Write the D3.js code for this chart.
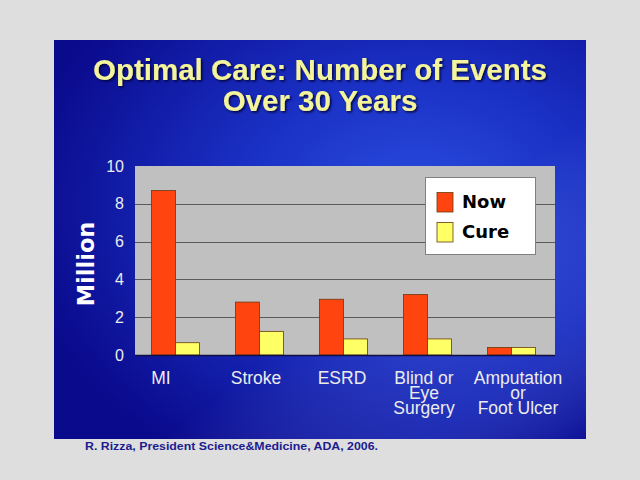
<!DOCTYPE html>
<html><head><meta charset="utf-8">
<script src="https://cdn.jsdelivr.net/npm/d3@7/dist/d3.min.js"></script>
<style>html,body{margin:0;padding:0;background:#dedede;}svg{display:block;}</style>
</head><body>
<script>
const categories = [["MI"], ["Stroke"], ["ESRD"], ["Blind or", "Eye", "Surgery"], ["Amputation", "or", "Foot Ulcer"]];
const seriesNames = ["Now", "Cure"];
const nowValues = [8.7, 2.8, 2.95, 3.2, 0.4];
const cureValues = [0.65, 1.25, 0.85, 0.85, 0.4];
const yTicks = [0, 2, 4, 6, 8, 10];
const titleLines = ["Optimal Care: Number of Events", "Over 30 Years"];
const yAxisLabel = "Million";
const citation = "R. Rizza, President Science&Medicine, ADA, 2006.";

const W = 640, H = 480;
const svg = d3.select("body").append("svg").attr("width", W).attr("height", H);
const defs = svg.append("defs");
const rg = defs.append("radialGradient").attr("id", "bg").attr("cx", "0.68").attr("cy", "0.42").attr("r", "0.75");
rg.append("stop").attr("offset", "0").attr("stop-color", "#2a4ee0");
rg.append("stop").attr("offset", "0.45").attr("stop-color", "#1a30c4");
rg.append("stop").attr("offset", "1").attr("stop-color", "#0a0a8c");
const lg = defs.append("linearGradient").attr("id", "streak").attr("x1", "0").attr("y1", "0").attr("x2", "1").attr("y2", "1");
lg.append("stop").attr("offset", "0.6").attr("stop-color", "#ffffff").attr("stop-opacity", 0);
lg.append("stop").attr("offset", "0.85").attr("stop-color", "#6080ff").attr("stop-opacity", 0.18);
lg.append("stop").attr("offset", "1").attr("stop-color", "#ffffff").attr("stop-opacity", 0);
const sh = defs.append("filter").attr("id", "shadow").attr("x", "-5%").attr("y", "-20%").attr("width", "110%").attr("height", "140%");
sh.append("feDropShadow").attr("dx", 1.5).attr("dy", 1.5).attr("stdDeviation", 0.8).attr("flood-color", "#000030").attr("flood-opacity", 0.9);

// panel
svg.append("rect").attr("x", 54).attr("y", 40).attr("width", 532).attr("height", 399).attr("fill", "url(#bg)");
svg.append("rect").attr("x", 54).attr("y", 40).attr("width", 532).attr("height", 399).attr("fill", "url(#streak)");

// title
const title = svg.append("text").attr("text-anchor", "middle").attr("font-family", "Liberation Sans, Arial, sans-serif")
  .attr("font-weight", "bold").attr("font-size", 29.5).attr("fill", "#f4f49c").attr("filter", "url(#shadow)");
titleLines.forEach((t, i) => title.append("tspan").attr("x", 320).attr("y", 80 + i * 31).text(t));

// scales
const plot = {l: 135, r: 555, t: 166, b: 355};
const x = d3.scaleBand().domain(d3.range(categories.length)).range([plot.l, plot.r]).paddingInner(0).paddingOuter(0);
const x1 = d3.scaleBand().domain(seriesNames).range([0, x.bandwidth()]).paddingInner(0).paddingOuter(0.75);
const y = d3.scaleLinear().domain([0, 10]).range([plot.b, plot.t]);
const colors = {Now: "#ff4410", Cure: "#ffff66"};

svg.append("rect").attr("x", plot.l).attr("y", plot.t).attr("width", plot.r - plot.l).attr("height", plot.b - plot.t).attr("fill", "#c0c0c0");

// gridlines
svg.append("g").selectAll("line").data(yTicks.filter(d => d > 0 && d < 10)).join("line")
  .attr("x1", plot.l).attr("x2", plot.r).attr("y1", d => Math.round(y(d)) + 0.5).attr("y2", d => Math.round(y(d)) + 0.5)
  .attr("stroke", "#5a5a5a").attr("stroke-width", 1);

// y axis
const yAxis = svg.append("g").attr("transform", `translate(${plot.l},0)`)
  .call(d3.axisLeft(y).tickValues(yTicks).tickSize(0).tickPadding(11).tickFormat(d3.format("d")));
yAxis.select(".domain").remove();
yAxis.selectAll("text").attr("font-family", "Liberation Sans, Arial, sans-serif").attr("font-size", 16).attr("fill", "#ececec");

// bars
const data = categories.map((c, i) => ({i, vals: [{s: "Now", v: nowValues[i]}, {s: "Cure", v: cureValues[i]}]}));
const groups = svg.append("g").selectAll("g").data(data).join("g").attr("transform", d => `translate(${x(d.i) - 2},0)`);
groups.selectAll("rect").data(d => d.vals).join("rect")
  .attr("x", d => x1(d.s) + 0.5).attr("y", d => y(d.v)).attr("width", x1.bandwidth()).attr("height", d => plot.b - y(d.v))
  .attr("fill", d => colors[d.s]).attr("stroke", "#6a3a10").attr("stroke-width", 0.8);

// baseline
svg.append("line").attr("x1", plot.l).attr("x2", plot.r).attr("y1", plot.b + 0.5).attr("y2", plot.b + 0.5).attr("stroke", "#101040").attr("stroke-width", 1.5);

// category labels
const nudge = [-16, -5, -3, -5, 5];
const catG = svg.append("g").attr("font-family", "Liberation Sans, Arial, sans-serif").attr("font-size", 17.5)
  .attr("fill", "#ececec").attr("text-anchor", "middle");
categories.forEach((lines, i) => {
  const t = catG.append("text");
  const cx = x(i) + x.bandwidth() / 2 + nudge[i];
  lines.forEach((ln, j) => t.append("tspan").attr("x", cx).attr("y", 384 + j * 15).text(ln));
});

// y label
svg.append("text").attr("transform", "translate(94,264) rotate(-90)").attr("text-anchor", "middle")
  .attr("font-family", "DejaVu Sans, Verdana, sans-serif").attr("font-weight", "bold").attr("font-size", 22.5)
  .attr("fill", "#ffffff").text(yAxisLabel);

// legend
const lgd = svg.append("g");
lgd.append("rect").attr("x", 425.5).attr("y", 177.5).attr("width", 110).attr("height", 77).attr("fill", "#ffffff").attr("stroke", "#808080").attr("stroke-width", 1);
seriesNames.forEach((s, i) => {
  lgd.append("rect").attr("x", 437).attr("y", 192.5 + i * 30).attr("width", 16).attr("height", 19.5)
    .attr("fill", colors[s]).attr("stroke", "#6a3a10").attr("stroke-width", 0.8);
  lgd.append("text").attr("x", 462).attr("y", 207.5 + i * 30).attr("font-family", "DejaVu Sans, Verdana, sans-serif")
    .attr("font-weight", "bold").attr("font-size", 18).attr("fill", "#000").text(s);
});

// citation
svg.append("text").attr("x", 85).attr("y", 449.5).attr("font-family", "Liberation Sans, Arial, sans-serif")
  .attr("font-weight", "bold").attr("font-size", 11).attr("fill", "#1c1c90")
  .attr("textLength", 293).attr("lengthAdjust", "spacingAndGlyphs").text(citation);
</script>
</body></html>
